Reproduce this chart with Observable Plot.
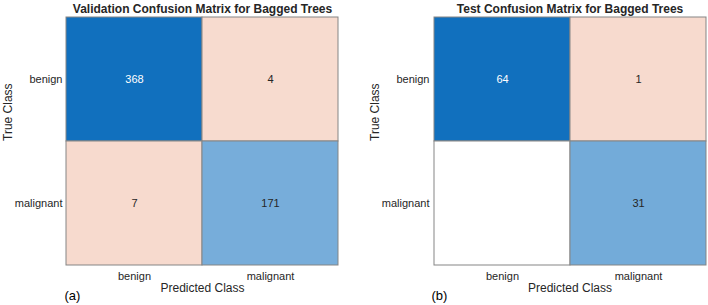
<!DOCTYPE html>
<html>
<head>
<meta charset="utf-8">
<script src="https://cdn.jsdelivr.net/npm/d3@7"></script>
<script src="https://cdn.jsdelivr.net/npm/@observablehq/plot@0.6"></script>
<style>
  html, body { margin: 0; padding: 0; background: #fff; }
  #wrap { display: flex; width: 708px; height: 305px; }
  #wrap svg { display: block; }
</style>
</head>
<body>
<div id="wrap"></div>
<script>
// Class labels shared by both matrices
const classes = ["benign", "malignant"];

// Counts, row = true class, column = predicted class
const validationCounts = [
  [368, 4],
  [7, 171]
];
const testCounts = [
  [64, 1],
  [0, 31]
];

const panelTitles = [
  "Validation Confusion Matrix for Bagged Trees",
  "Test Confusion Matrix for Bagged Trees"
];
const panelTags = ["(a)", "(b)"];

const FONT = "'Liberation Sans', Arial, Helvetica, sans-serif";
const diagColor = "#1170BE";
const offColor = "#D95319";

function toRows(counts) {
  const rows = [];
  counts.forEach((row, i) => row.forEach((v, j) => {
    rows.push({truth: classes[i], predicted: classes[j], value: v, diag: i === j});
  }));
  return rows;
}

function draw(counts, title, tag, marginLeft, marginRight) {
  const rows = toRows(counts);
  const max = d3.max(rows, d => d.value);
  // Shade each cell from white toward its base colour by its share of the largest count
  const shade = d => d.value === 0 ? "#ffffff"
    : d3.interpolateRgb("#ffffff", d.diag ? diagColor : offColor)(0.2 + 0.8 * d.value / max);
  const textFill = d => (d.diag && d.value / max > 0.7) ? "#ffffff" : "#262626";

  return Plot.plot({
    width: 354,
    height: 305,
    marginTop: 16,
    marginBottom: 40,
    marginLeft,
    marginRight,
    style: {fontFamily: FONT, background: "#fff"},
    x: {domain: classes, padding: 0, label: null},
    y: {domain: classes, padding: 0, label: null},
    marks: [
      Plot.cell(rows, {x: "predicted", y: "truth", fill: shade, stroke: "#858585", strokeWidth: 1}),
      Plot.text(rows, {x: "predicted", y: "truth", text: d => d.value === 0 ? "" : String(d.value),
        fill: textFill, fontSize: 11}),
      Plot.axisX({tickSize: 0, tickPadding: 7, fontSize: 11, color: "#262626", label: null}),
      Plot.axisY({tickSize: 0, tickPadding: 4, fontSize: 11, color: "#262626", label: null}),
      Plot.text([title], {frameAnchor: "top", lineAnchor: "middle", dy: -7, fontSize: 12,
        fontWeight: "bold", fill: "#262626"}),
      Plot.text(["Predicted Class"], {frameAnchor: "bottom", lineAnchor: "middle", dy: 23, fontSize: 12,
        fill: "#262626"}),
      Plot.text(["True Class"], {frameAnchor: "left", dx: -58, rotate: -90, fontSize: 12, fill: "#262626"}),
      Plot.text([tag], {frameAnchor: "bottom-left", lineAnchor: "middle", dy: 30, dx: -2, textAnchor: "start",
        fontSize: 13, fill: "#000"})
    ]
  });
}

const wrap = document.getElementById("wrap");
wrap.append(draw(validationCounts, panelTitles[0], panelTags[0], 66, 16));
wrap.append(draw(testCounts, panelTitles[1], panelTags[1], 79, 2));
</script>
</body>
</html>
